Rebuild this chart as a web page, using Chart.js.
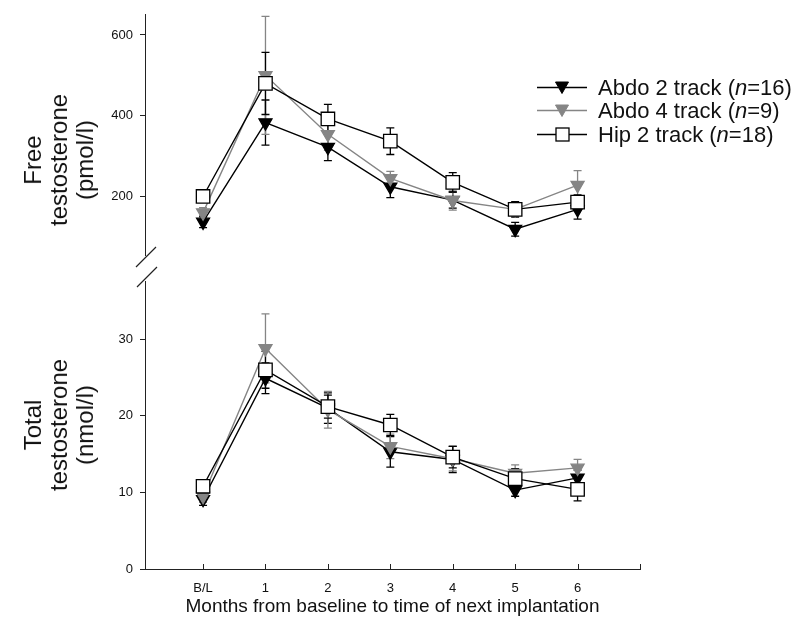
<!DOCTYPE html>
<html>
<head>
<meta charset="utf-8">
<script src="https://cdn.jsdelivr.net/npm/chart.js@4.4.0/dist/chart.umd.min.js"></script>
<style>
body{margin:0;background:#fff;font-family:'Liberation Sans',Arial,sans-serif}
#wrap{position:relative;width:804px;height:628px;overflow:hidden;background:#fff}
canvas{position:absolute;left:0;top:0}
.ytitle{position:absolute;transform:translate(-50%,-50%) rotate(-90deg);text-align:center;font-size:24px;line-height:26px;white-space:nowrap;color:#111}
#legend{position:absolute;left:537px;top:76px;font-size:22px;color:#111}
#legend .row{display:flex;align-items:center;height:23.5px;white-space:nowrap}
#legend svg{margin-right:11px}
</style>
</head>
<body>
<div id="wrap">
<canvas id="total" width="804" height="628"></canvas>
<canvas id="free" width="804" height="628"></canvas>
<div class="ytitle" style="left:59px;top:160px">Free<br>testosterone<br>(pmol/l)</div>
<div class="ytitle" style="left:59px;top:425px">Total<br>testosterone<br>(nmol/l)</div>
<div id="legend"></div>
</div>
<script>
// data (mean and error)
const months=['B/L','1','2','3','4','5','6']
const monthX=[0,1,2,3,4,5,6]
const seriesNames=['Abdo 2 track','Abdo 4 track','Hip 2 track']
const seriesN=[16,9,18]

const abdo2Free=[137,383,322,224,191,119,168]
const abdo2FreeErr=[14,56,33,27,20,17,24]
const abdo4Free=[160,500,354,245,190,168,228]
const abdo4FreeErr=[12,146,40,17,24,15,36]
const hipFree=[200,480,392,337,235,168,186]
const hipFreeErr=[10,77,36,33,24,19,18]

const abdo2Total=[9.1,24.9,21.0,15.3,14.3,10.3,11.9]
const abdo2TotalErr=[0.8,2.0,2.0,2.0,1.7,0.8,1.0]
const abdo4Total=[9.5,28.8,20.8,16.0,14.4,12.5,13.2]
const abdo4TotalErr=[0.8,4.5,2.4,1.6,1.6,1.1,1.1]
const hipTotal=[10.8,26.0,21.2,18.8,14.6,11.8,10.4]
const hipTotalErr=[0.8,2.4,1.5,1.4,1.4,1.3,1.5]

const freeTicks=[200,400,600]
const totalTicks=[0,10,20,30]

Chart.defaults.font.family="'Liberation Sans', Arial, sans-serif"
Chart.defaults.color='#111'

const looks=[
    {color:'#000',fill:'#000',shape:'triangle',r:7.5,rot:180},
    {color:'#858585',fill:'#858585',shape:'triangle',r:7.5,rot:180},
    {color:'#000',fill:'#fff',shape:'rect',r:9.5,rot:0},
]

const mk=(vals,errs,i)=>({
    label:seriesNames[i],
    data:monthX.map((x,j)=>({x,y:vals[j]})),
    errors:errs,
    borderColor:looks[i].color,
    borderWidth:1.4,
    pointStyle:looks[i].shape,
    pointRotation:looks[i].rot,
    pointRadius:looks[i].r,
    pointBackgroundColor:looks[i].fill,
    pointBorderColor:looks[i].color,
    pointBorderWidth:1.3,
    order:2-i,
})

const errorBars={
    id:'errorBars',
    beforeDatasetsDraw(chart){
        const ctx=chart.ctx, ys=chart.scales.y
        chart.data.datasets.forEach((ds,i)=>{
            const meta=chart.getDatasetMeta(i)
            ctx.save()
            ctx.strokeStyle=ds.borderColor
            ctx.lineWidth=1.3
            meta.data.forEach((pt,j)=>{
                const v=ds.data[j].y, e=ds.errors[j]
                const t=ys.getPixelForValue(v+e), b=ys.getPixelForValue(v-e)
                ctx.beginPath()
                ctx.moveTo(pt.x,t);ctx.lineTo(pt.x,b)
                ctx.moveTo(pt.x-4,t);ctx.lineTo(pt.x+4,t)
                ctx.moveTo(pt.x-4,b);ctx.lineTo(pt.x+4,b)
                ctx.stroke()
            })
            ctx.restore()
        })
    }
}

// x ticks point up into the plot
const innerTicks={
    id:'innerTicks',
    afterDraw(chart){
        const ctx=chart.ctx, xs=chart.scales.x, b=chart.chartArea.bottom
        ctx.save();ctx.strokeStyle='#222';ctx.lineWidth=1
        for(let v=0;v<=7;v++){
            const px=Math.round(xs.getPixelForValue(v))+0.5
            ctx.beginPath();ctx.moveTo(px,b);ctx.lineTo(px,b-5);ctx.stroke()
        }
        ctx.restore()
    }
}

// axis break marks under the upper panel
const breakMarks={
    id:'breakMarks',
    afterDraw(chart){
        const ctx=chart.ctx, {left,bottom}=chart.chartArea
        ctx.save();ctx.strokeStyle='#222';ctx.lineWidth=1.2
        ctx.beginPath()
        ctx.moveTo(left-9,bottom+12);ctx.lineTo(left+11,bottom-8)
        ctx.moveTo(left-8,bottom+32);ctx.lineTo(left+12,bottom+12)
        ctx.stroke()
        ctx.restore()
    }
}

const opts=(yMin,yMax,yTicks,pad,showX)=>({
    responsive:false,
    animation:false,
    layout:{padding:pad},
    plugins:{legend:{display:false},tooltip:{enabled:false}},
    scales:{
        x:{
            type:'linear',min:-0.93,max:7,display:showX,
            afterBuildTicks:s=>{s.ticks=[0,1,2,3,4,5,6,7].map(value=>({value}))},
            grid:{display:false,drawTicks:false},
            border:{display:true,color:'#222',width:1},
            ticks:{padding:12,font:{size:13},color:'#111',autoSkip:false,maxRotation:0,callback:v=>months[v]??''},
            title:{display:true,text:'Months from baseline to time of next implantation',font:{size:19},color:'#111',padding:{top:0,bottom:10}},
            afterFit:s=>{s.height=showX?59:0},
        },
        y:{
            min:yMin,max:yMax,
            afterBuildTicks:s=>{s.ticks=yTicks.map(value=>({value}))},
            afterFit:s=>{s.width=145},
            grid:{drawOnChartArea:false,drawTicks:true,tickLength:5,color:'#222'},
            border:{display:true,color:'#222',width:1},
            ticks:{padding:7,font:{size:13},color:'#111'},
        },
    },
})

new Chart(document.getElementById('free'),{
    type:'line',
    data:{datasets:[mk(abdo2Free,abdo2FreeErr,0),mk(abdo4Free,abdo4FreeErr,1),mk(hipFree,hipFreeErr,2)]},
    options:opts(55,650,freeTicks,{top:12,bottom:373,left:0,right:164},false),
    plugins:[errorBars,breakMarks],
})

new Chart(document.getElementById('total'),{
    type:'line',
    data:{datasets:[mk(abdo2Total,abdo2TotalErr,0),mk(abdo4Total,abdo4TotalErr,1),mk(hipTotal,hipTotalErr,2)]},
    options:opts(0,37.6,totalTicks,{top:281,bottom:0,left:0,right:164},true),
    plugins:[errorBars,innerTicks],
})

// legend
const sym=l=>{
    const m=l.shape==='rect'
        ?`<rect x="19" y="3" width="13" height="13" fill="${l.fill}" stroke="${l.color}" stroke-width="1.3"/>`
        :`<polygon points="18.5,4 31.5,4 25,15.5" fill="${l.fill}" stroke="${l.color}"/>`
    return `<svg width="50" height="20"><line x1="0" y1="9.5" x2="50" y2="9.5" stroke="${l.color}" stroke-width="1.4"/>${m}</svg>`
}
document.getElementById('legend').innerHTML=seriesNames.map((s,i)=>
    `<div class="row">${sym(looks[i])}<span>${s} (<i>n</i>=${seriesN[i]})</span></div>`).join('')
</script>
</body>
</html>
